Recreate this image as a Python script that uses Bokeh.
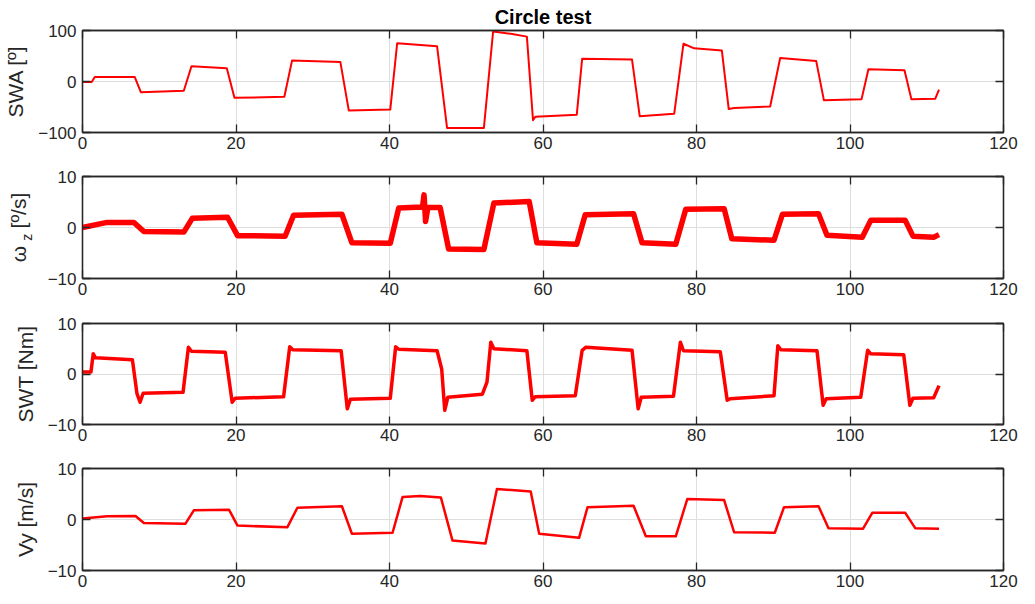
from bokeh.plotting import figure
from bokeh.layouts import column
from bokeh.models import FixedTicker, LinearAxis, Title, Range1d
from bokeh.embed import file_html
from bokeh.resources import INLINE

# ---------------- data ----------------
x_ticks = [0, 20, 40, 60, 80, 100, 120]
swa_ticks = [-100, 0, 100]
std_ticks = [-10, 0, 10]

swa_t = [0, 1.2, 1.6, 6.8, 7.6, 13.2, 14.2, 18.8, 19.8, 26.3, 27.3, 33.6, 34.7, 40.1, 41.0,
         46.2, 47.5, 52.3, 53.5, 55.8, 57.9, 58.7, 59.0, 64.4, 65.1, 71.6, 72.6, 77.1, 78.3,
         79.7, 83.3, 84.2, 84.9, 89.6, 90.9, 95.6, 96.6, 101.5, 102.4, 107.1, 108.0, 111.1, 111.6]
swa_v = [-1, -1, 9, 9, -21, -18, 30, 26, -32, -30, 41, 38, -57, -55, 75,
         69, -91, -91, 98, 93.5, 88, -76, -69, -65, 44.5, 43, -68, -63, 74,
         65, 61, -54, -52, -49, 46, 40, -37, -35, 24, 22, -35, -34, -16]

wz_t = [0, 3.2, 6.7, 8.0, 13.2, 14.3, 18.9, 20.2, 26.4, 27.5, 33.8, 35.1, 40.1, 41.2, 44.3,
        44.5, 44.7, 45.0, 46.6, 47.7, 52.3, 53.6, 58.2, 59.2, 64.4, 65.5, 71.8, 72.9, 77.3,
        78.6, 83.6, 84.6, 90.1, 91.2, 95.9, 97.0, 101.6, 102.7, 107.2, 108.2, 110.9, 111.6]
wz_v = [0, 1.0, 1.0, -0.8, -0.9, 1.8, 2.0, -1.6, -1.7, 2.4, 2.6, -3.0, -3.1, 3.8, 4.0,
        6.4, 1.2, 3.9, 3.9, -4.2, -4.3, 4.8, 5.1, -3.0, -3.3, 2.5, 2.7, -3.0, -3.3,
        3.6, 3.7, -2.2, -2.5, 2.6, 2.7, -1.5, -1.9, 1.4, 1.4, -1.7, -1.9, -1.4]

swt_t = [0, 1.1, 1.4, 1.7, 6.5, 7.1, 7.5, 7.9, 13.1, 13.8, 14.2, 18.6, 19.5, 19.9, 26.2, 27.0,
         27.4, 33.7, 34.5, 34.9, 40.1, 40.8, 41.2, 46.2, 46.8, 47.2, 47.6, 52.1, 52.7, 53.2,
         53.6, 57.9, 58.6, 59.0, 64.2, 65.1, 65.6, 71.6, 72.4, 72.8, 77.0, 77.9, 78.3, 83.1,
         84.0, 84.4, 90.1, 90.6, 91.0, 95.7, 96.5, 96.9, 101.4, 102.3, 102.7, 107.0, 107.8,
         108.2, 110.9, 111.6]
swt_v = [0.4, 0.4, 4.0, 3.2, 2.8, -3.9, -5.6, -3.8, -3.6, 5.3, 4.5, 4.3, -5.6, -4.8, -4.5, 5.4,
         4.8, 4.6, -6.9, -5.0, -4.8, 5.4, 4.9, 4.6, 1.0, -7.2, -4.6, -4.0, -1.6, 6.3,
         5.0, 4.6, -5.2, -4.5, -4.3, 4.7, 5.3, 4.7, -6.9, -4.6, -4.4, 6.3, 4.6, 4.4,
         -5.2, -4.9, -4.3, 5.6, 4.8, 4.6, -6.2, -4.9, -4.6, 4.7, 4.0, 3.8, -6.2,
         -4.8, -4.7, -2.3]

vy_t = [0, 3.2, 6.9, 8.0, 13.4, 14.5, 19.1, 20.2, 26.7, 28.0, 33.8, 35.1, 40.4, 41.7, 44.0,
        46.7, 48.2, 52.5, 54.0, 58.4, 59.5, 64.7, 65.8, 71.8, 73.4, 77.3, 78.8, 83.6, 84.9,
        90.2, 91.4, 95.9, 97.2, 101.7, 102.9, 107.2, 108.5, 111.6]
vy_v = [0.2, 0.65, 0.7, -0.7, -0.85, 1.8, 1.9, -1.2, -1.5, 2.3, 2.6, -2.8, -2.6, 4.4, 4.6,
        4.3, -4.1, -4.7, 6.0, 5.5, -2.8, -3.6, 2.4, 2.7, -3.3, -3.3, 4.0, 3.8, -2.5,
        -2.6, 2.4, 2.6, -1.7, -1.8, 1.3, 1.3, -1.7, -1.8]

NBSP = "\u00a0"
wz_label_main = "ω" + NBSP * 3 + "[º/s]"   # omega ... unit
wz_label_sub = "z" + NBSP * 5               # subscript z

# ---------------- styling ----------------
FONT = "Liberation Sans"
AX = "#262626"
GRID = "#dedede"
RED = "#ff0000"
TICK_FS = "17px"


def style_axis(ax, ticks, show_labels=True):
    ax.ticker = FixedTicker(ticks=ticks)
    ax.major_tick_in = 8
    ax.major_tick_out = 0
    ax.minor_tick_line_color = None
    ax.axis_line_color = AX
    ax.axis_line_width = 1.3
    ax.major_tick_line_color = AX
    ax.major_tick_line_width = 1.3
    ax.major_label_text_font = FONT
    ax.major_label_text_color = AX
    if show_labels:
        ax.major_label_text_font_size = TICK_FS
    else:
        ax.major_label_text_font_size = "0px"
        ax.major_label_standoff = 0
        ax.major_label_overrides = {t: "" for t in ticks}


def make_fig(top, frame_h, bottom, yticks, yrange):
    p = figure(frame_width=921, frame_height=frame_h,
               min_border_left=82, min_border_right=32,
               min_border_top=top, min_border_bottom=bottom,
               x_range=Range1d(0, 120), y_range=Range1d(*yrange),
               output_backend="svg", toolbar_location=None,
               background_fill_color="white", border_fill_color="white")
    p.outline_line_color = AX
    p.outline_line_width = 1.3
    style_axis(p.xaxis[0], x_ticks)
    p.xaxis[0].major_label_standoff = 4
    style_axis(p.yaxis[0], yticks)
    p.yaxis[0].major_label_standoff = 6
    top_ax = LinearAxis()
    style_axis(top_ax, x_ticks, show_labels=False)
    p.add_layout(top_ax, "above")
    right_ax = LinearAxis()
    style_axis(right_ax, yticks, show_labels=False)
    p.add_layout(right_ax, "right")
    p.xgrid.ticker = FixedTicker(ticks=x_ticks)
    p.ygrid.ticker = FixedTicker(ticks=yticks)
    p.xgrid.grid_line_color = GRID
    p.ygrid.grid_line_color = GRID
    return p


def set_ylabel(ax, text, size="21px", standoff=8):
    ax.axis_label = text
    ax.axis_label_text_font = FONT
    ax.axis_label_text_font_size = size
    ax.axis_label_text_font_style = "normal"
    ax.axis_label_text_color = AX
    ax.axis_label_standoff = standoff


# ---- plot 1 : SWA ----
p1 = make_fig(30, 102, 22, swa_ticks, (-100, 100))
p1.title = Title(text="Circle test", align="center", text_font=FONT,
                 text_font_size="20px", text_font_style="bold",
                 text_color="black", standoff=6)
set_ylabel(p1.yaxis[0], "SWA [º]")
p1.line(swa_t, swa_v, color=RED, line_width=2, line_join="round")

# ---- plot 2 : omega_z ----
p2 = make_fig(22, 102, 22, std_ticks, (-10, 10))
set_ylabel(p2.yaxis[0], wz_label_sub, size="14px", standoff=10)
outer = LinearAxis(ticker=FixedTicker(ticks=[]), axis_line_color=None,
                   major_tick_line_color=None, minor_tick_line_color=None,
                   major_label_text_font_size="0px", major_label_standoff=0,
                   major_tick_in=0, major_tick_out=0)
set_ylabel(outer, wz_label_main, size="21px", standoff=-14)
p2.add_layout(outer, "left")
p2.line(wz_t, wz_v, color=RED, line_width=5.5, line_join="round")

# ---- plot 3 : SWT ----
p3 = make_fig(23, 101, 22, std_ticks, (-10, 10))
set_ylabel(p3.yaxis[0], "SWT [Nm]")
p3.line(swt_t, swt_v, color=RED, line_width=3.5, line_join="round")

# ---- plot 4 : Vy ----
p4 = make_fig(22, 102, 34, std_ticks, (-10, 10))
set_ylabel(p4.yaxis[0], "Vy [m/s]")
p4.line(vy_t, vy_v, color=RED, line_width=2.5, line_join="round")

layout = column(p1, p2, p3, p4, spacing=0)
open("out.html", "w").write(file_html(layout, INLINE))
